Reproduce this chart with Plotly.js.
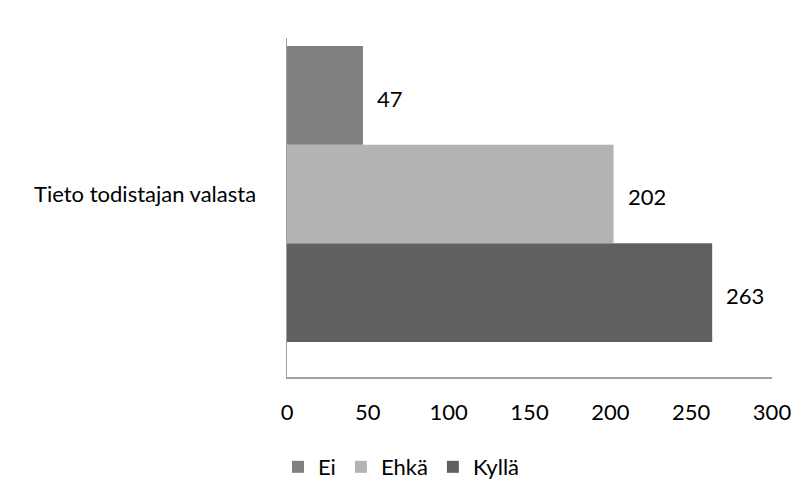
<!DOCTYPE html>
<html>
<head>
<meta charset="utf-8">
<script src="https://cdn.plot.ly/plotly-3.0.1.min.js"></script>
<style>html,body{margin:0;padding:0;background:#fff;}#chart{width:795px;height:479px;}</style>
</head>
<body>
<div id="chart"></div>
<script>
const categories = ['Tieto todistajan valasta'];
const seriesNames = ['Ei', 'Ehkä', 'Kyllä'];
const eiValues = [47];
const ehkaValues = [202];
const kyllaValues = [263];
const xTicks = [0, 50, 100, 150, 200, 250, 300];

const colors = {'Ei': '#808080', 'Ehkä': '#b3b3b3', 'Kyllä': '#606060'};
const font = 'Lato, "Open Sans", sans-serif';
const FS = 22;
const BARGAP = 0.13;

function mk(name, vals) {
  return {
    type: 'bar', orientation: 'h', name: name,
    y: categories, x: vals,
    marker: {color: colors[name]},
    hoverinfo: 'x+name'
  };
}
// plot order bottom-to-top: Kyllä, Ehkä, Ei
const plotOrder = [['Kyllä', kyllaValues], ['Ehkä', ehkaValues], ['Ei', eiValues]];
const data = plotOrder.map(p => mk(p[0], p[1]));

// value labels placed just right of each bar end
const barW = (1 - BARGAP) / plotOrder.length;
const annotations = [];
plotOrder.forEach((p, i) => {
  p[1].forEach((v, ci) => {
    annotations.push({
      x: v, y: ci - (1 - BARGAP) / 2 + barW * (i + 0.5),
      xref: 'x', yref: 'y', text: String(v), showarrow: false,
      xanchor: 'left', yanchor: 'middle', xshift: 12, yshift: -3,
      font: {family: font, size: FS, color: '#000'}
    });
  });
});

const layout = {
  width: 795, height: 479,
  margin: {l: 287, r: 23, t: 38, b: 102},
  paper_bgcolor: '#fff', plot_bgcolor: '#fff',
  barmode: 'group', bargap: BARGAP, bargroupgap: 0,
  font: {family: font, size: FS, color: '#000'},
  annotations: annotations,
  xaxis: {
    range: [0, 300], tickvals: xTicks, ticktext: xTicks.map(String),
    showgrid: false, zeroline: false, showline: true, linecolor: '#a0a0a0', linewidth: 1.5,
    ticks: '', ticklabelstandoff: 15, tickfont: {family: font, size: FS, color: '#000'},
    fixedrange: true
  },
  yaxis: {
    type: 'category', range: [-0.538, 0.4585],
    showgrid: false, zeroline: false, showline: true, linecolor: '#a0a0a0', linewidth: 1.5,
    ticks: '', ticklabelstandoff: 25, tickfont: {family: font, size: FS, color: '#000'},
    fixedrange: true
  },
  showlegend: true,
  legend: {
    orientation: 'h', traceorder: 'reversed',
    xref: 'container', yref: 'container',
    x: 0.505, xanchor: 'center', y: 0.025, yanchor: 'middle',
    font: {family: font, size: FS, color: '#000'},
    itemwidth: 30, tracegroupgap: 0
  }
};

Plotly.newPlot('chart', data, layout, {displayModeBar: false, staticPlot: true});
</script>
</body>
</html>
